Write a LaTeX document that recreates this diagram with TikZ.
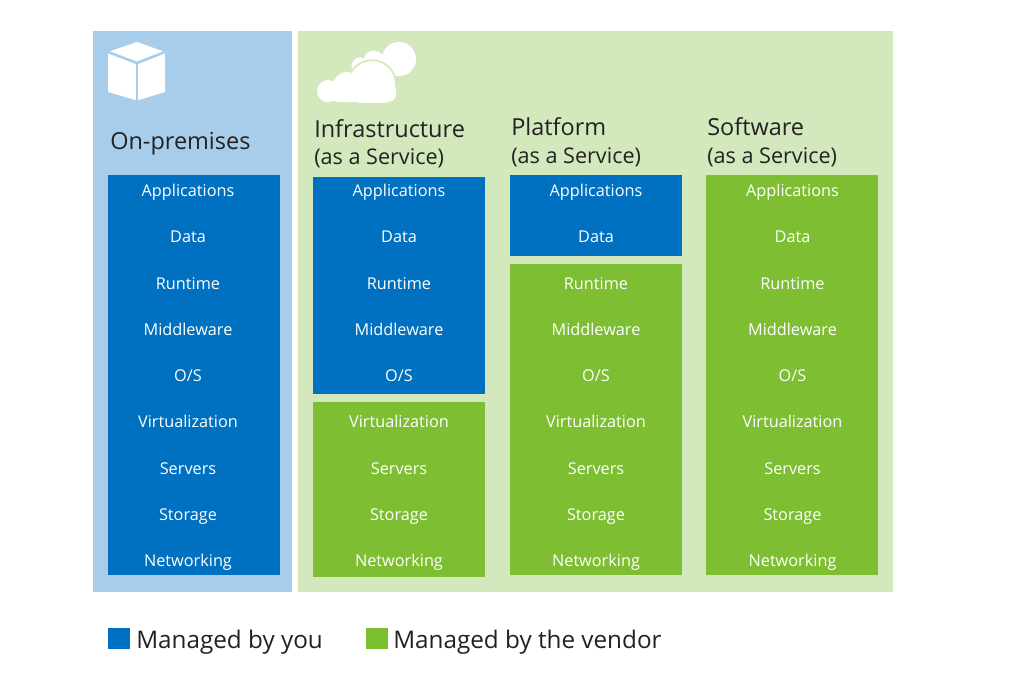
\documentclass[tikz,border=0pt]{standalone}
\usepackage{fontspec}
\setmainfont{Open Sans}
\definecolor{lblue}{HTML}{A8CDEB}
\definecolor{lgreen}{HTML}{D3E8BC}
\definecolor{dblue}{HTML}{0070C0}
\definecolor{dgreen}{HTML}{7DBE32}
\definecolor{ink}{HTML}{222222}
\newcommand\pbox[6]{\node[panel, fill=#6, minimum width={(#4-#2)*0.75pt}, minimum height={(#5-#3)*0.75pt}] (#1) at (#2,#3) {};}
\begin{document}
\begin{tikzpicture}[x=0.75pt,y=-0.75pt,
  panel/.style={draw=none, inner sep=0pt, outer sep=0pt, anchor=north west, rectangle},
  rowlbl/.style={anchor=base, text=white, inner sep=0pt, font=\fontsize{12.2}{14}\selectfont},
  ttl/.style={anchor=base west, text=ink, inner sep=0pt, font=\fontsize{17.6}{20}\selectfont},
  sub/.style={anchor=base west, text=ink, inner sep=0pt, font=\fontsize{16.2}{19}\selectfont},
  leg/.style={anchor=base west, text=ink, inner sep=0pt, font=\fontsize{18.2}{21}\selectfont}]
\useasboundingbox[fill=white] (0,0) rectangle (1020,674);

% panels
\pbox{onprem}{93}{31}{292}{592}{lblue}
\pbox{cloudpanel}{298}{31}{893}{592}{lgreen}

% columns
\pbox{opcol}{108}{175}{280}{575}{dblue}
\pbox{iaasb}{313}{177}{485}{394}{dblue}
\pbox{iaasg}{313}{402}{485}{577}{dgreen}
\pbox{paasb}{510}{175}{682}{256}{dblue}
\pbox{paasg}{510}{264}{682}{575}{dgreen}
\pbox{saasg}{706}{175}{878}{575}{dgreen}

% row labels
\foreach \t [count=\i from 0] in {Applications,Data,Runtime,Middleware,O/S,Virtualization,Servers,Storage,Networking}{
  \node[rowlbl] (op\i) at (188,{196.7+46.25*\i}) {\t};
  \node[rowlbl] (ia\i) at (399,{196.7+46.25*\i}) {\t};
  \node[rowlbl] (pa\i) at (596,{196.7+46.25*\i}) {\t};
  \node[rowlbl] (sa\i) at (792.5,{196.7+46.25*\i}) {\t};
}

% titles
\node[ttl] (t1) at (110,149.3) {On-premises};
\node[ttl] (t2) at (314,137) {Infrastructure};
\node[sub] (s2) at (314,164.5) {(as a Service)};
\node[ttl] (t3) at (511,135) {Platform};
\node[sub] (s3) at (511,163) {(as a Service)};
\node[ttl] (t4) at (707,135) {Software};
\node[sub] (s4) at (707,163) {(as a Service)};

% cube icon
\fill[white] (108,52) -- (137,42) -- (165,52) -- (165,92) -- (137,100.5) -- (108,92) -- cycle;
\draw[lblue, line width=1.9pt, line join=miter] (108,52) -- (137,63) -- (165,52);
\draw[lblue, line width=1.9pt] (137,63) -- (137,101);

% cloud icon
\fill[white] (399,59) circle[radius=12.8pt] (374,61) circle[radius=7.8pt] (360,66) circle[radius=6.4pt];
\begin{scope}
  \clip (300,40) rectangle (420,102);
  \draw[lgreen, line width=2.6pt, fill=white]
    (328,91) circle[radius=8.3pt] (347,86) circle[radius=10.5pt] (372,84) circle[radius=17.2pt];
  \draw[lgreen, line width=2.6pt, rounded corners=6pt] (330,82) rectangle (396,102);
  \fill[white] (328,91) circle[radius=8.3pt] (347,86) circle[radius=10.5pt] (372,84) circle[radius=17.2pt];
  \fill[white, rounded corners=6pt] (330,82) rectangle (396,102);
\end{scope}

% legend
\pbox{lg1}{108}{627.7}{130}{649.3}{dblue}
\node[leg] (l1) at (136,648.3) {Managed by you};
\pbox{lg2}{366}{627.7}{388}{649.3}{dgreen}
\node[leg] (l2) at (393,648.3) {Managed by the vendor};
\end{tikzpicture}
\end{document}
